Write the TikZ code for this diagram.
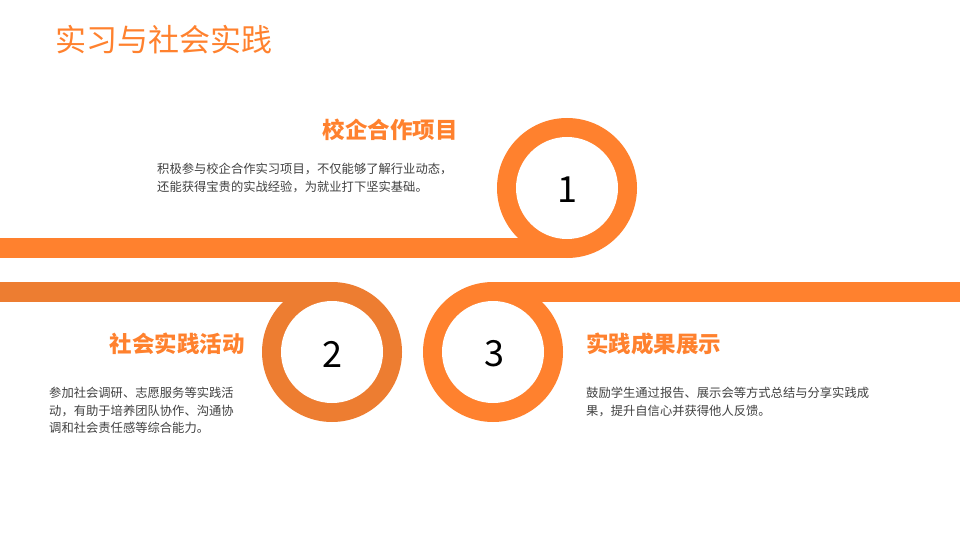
\documentclass[tikz,border=0pt]{standalone}
\usepackage{fontspec}
\setmainfont{Noto Sans CJK SC}
\definecolor{orA}{HTML}{FF812E}
\definecolor{orB}{HTML}{ED7D31}
\definecolor{txt}{HTML}{404040}
\begin{document}
\begin{tikzpicture}[x=1pt,y=-1pt,
  head/.style={text=orA,font=\fontsize{22.5}{26}\selectfont\bfseries,inner sep=0},
  body/.style={text=txt,font=\fontsize{12.3}{17.5}\selectfont,inner sep=0,align=left,anchor=north west},
  num/.style={font=\fontsize{36}{40}\selectfont,text=black}]
\useasboundingbox (0,0) rectangle (960,540);
\fill[orA] (0,238) rectangle (567,258);
\fill[orA] (567,188) circle (70);
\fill[white] (567,188) circle (51);
\fill[orB] (0,282) rectangle (332,302);
\fill[orB] (332,352) circle (70);
\fill[white] (332,352) circle (51);
\fill[orA] (493,282) rectangle (960,302);
\fill[orA] (493,352) circle (70);
\fill[white] (493,352) circle (51);
\node[num] (n1) at (567,190) {1};
\node[num] (n2) at (332,354) {2};
\node[num] (n3) at (494,354) {3};
\node[text=orA,font=\fontsize{31}{36}\selectfont,anchor=west,inner sep=0] (t) at (55,40) {实习与社会实践};
\node[head,anchor=east] (h1) at (458,130) {校企合作项目};
\node[head,anchor=east] (h2) at (245,344) {社会实践活动};
\node[head,anchor=west] (h3) at (586,344) {实践成果展示};
\node[body] (b1) at (157,163) {积极参与校企合作实习项目，不仅能够了解行业动态，\\还能获得宝贵的实战经验，为就业打下坚实基础。};
\node[body] (b2) at (49,387) {参加社会调研、志愿服务等实践活\\动，有助于培养团队协作、沟通协\\调和社会责任感等综合能力。};
\node[body] (b3) at (586,387) {鼓励学生通过报告、展示会等方式总结与分享实践成\\果，提升自信心并获得他人反馈。};
\end{tikzpicture}
\end{document}
